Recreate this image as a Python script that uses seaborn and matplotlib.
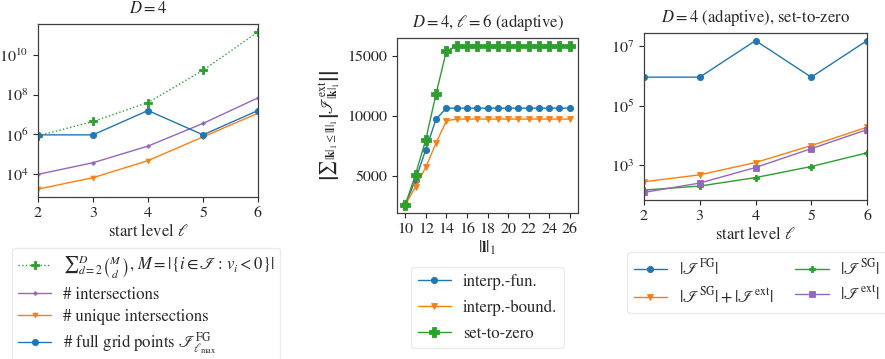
import matplotlib
matplotlib.use("Agg")
import matplotlib.pyplot as plt
import seaborn as sns

# ---- data ---------------------------------------------------------------
start_levels = [2, 3, 4, 5, 6]

# left panel: D = 4
n_binom_sum = [8.2e5, 4.4e6, 4.0e7, 1.7e9, 1.5e11]
n_intersections = [9.3e3, 3.6e4, 2.5e5, 3.5e6, 6.9e7]
n_unique_intersections = [1.66e3, 6.3e3, 4.6e4, 7.3e5, 1.15e7]
n_full_grid = [923521, 923521, 15752961, 923521, 15752961]

# middle panel: D = 4, l = 6 (adaptive)
level_sums = list(range(10, 27))
ext_interp_fun = [2600, 4700, 7210, 9750] + [10660] * 13
ext_interp_bound = [2600, 4120, 5750, 7760, 9610] + [9750] * 12
ext_set_to_zero = [2600, 5140, 8040, 11850, 15410] + [15830] * 12

# right panel: D = 4 (adaptive), set-to-zero
size_fg = [923521, 923521, 15752961, 923521, 15752961]
size_sg_plus_ext = [276, 474, 1230, 4560, 19000]
size_sg = [145, 198, 382, 902, 2600]
size_ext = [121, 250, 835, 3600, 15700]

# ---- style ----------------------------------------------------------------
sns.set_theme(style="ticks")
FS = 12
plt.rcParams.update({
    "font.family": ["STIXGeneral", "DejaVu Serif"],
    "mathtext.fontset": "stix",
    "font.size": FS,
    "axes.titlesize": FS,
    "axes.labelsize": FS,
    "xtick.labelsize": 11.5,
    "ytick.labelsize": 11.5,
    "legend.fontsize": 12,
    "axes.edgecolor": "0.25",
    "axes.linewidth": 0.9,
    "xtick.color": "0.15",
    "ytick.color": "0.15",
    "xtick.major.size": 3.5,
    "ytick.major.size": 3.5,
    "xtick.major.width": 0.8,
    "ytick.major.width": 0.8,
    "legend.edgecolor": "0.9",
    "legend.fancybox": True,
})

C_BLUE, C_ORANGE, C_GREEN, C_PURPLE = "#1f77b4", "#ff7f0e", "#2ca02c", "#9467bd"
LW = 1.0

W, H = 885, 359
fig = plt.figure(figsize=(W / 100, H / 100), dpi=100)


def box(left, top, right, bottom):
    return [left / W, 1 - bottom / H, (right - left) / W, (bottom - top) / H]


def curve(ax, x, y, color, **kw):
    sns.lineplot(x=x, y=y, ax=ax, color=color, linewidth=LW,
                 markeredgecolor=color, markeredgewidth=0.6, **kw)


LEG = dict(frameon=True, loc="upper left", borderaxespad=0.0, handlelength=2.0,
           handletextpad=0.7)

# ---- left panel -------------------------------------------------------------
ax1 = fig.add_axes(box(38, 24, 258, 197))
curve(ax1, start_levels, n_binom_sum, C_GREEN, linestyle=":", marker="P", markersize=5.5,
      label=r"${\sum}_{d=2}^{D}\binom{M}{d}$, $M=|\{i\in\mathscr{I}:\,v_i<0\}|$")
curve(ax1, start_levels, n_intersections, C_PURPLE, marker="P", markersize=2.5,
      label="# intersections")
curve(ax1, start_levels, n_unique_intersections, C_ORANGE, marker="v", markersize=3.5,
      label="# unique intersections")
curve(ax1, start_levels, n_full_grid, C_BLUE, marker="o", markersize=4.5,
      label=r"# full grid points $\mathscr{I}^{\mathrm{FG}}_{\ell_{\max}}$")
ax1.set_yscale("log")
ax1.set_xlim(2, 6)
ax1.set_xticks(start_levels)
ax1.set_xlabel(r"start level $\ell$", labelpad=2)
ax1.set_ylabel("")
ax1.set_title(r"$D=4$", pad=8)
ax1.minorticks_off()
h1, l1 = ax1.get_legend_handles_labels()
ax1.get_legend().remove()
fig.legend(h1, l1, bbox_to_anchor=(12 / W, 1 - 248 / H), labelspacing=0.35,
           borderpad=0.35, **LEG)

# ---- middle panel -----------------------------------------------------------
ax2 = fig.add_axes(box(397, 38, 578, 213))
curve(ax2, level_sums, ext_interp_fun, C_BLUE, marker="o", markersize=4.5,
      label="interp.-fun.")
curve(ax2, level_sums, ext_interp_bound, C_ORANGE, marker="v", markersize=4.5,
      label="interp.-bound.")
curve(ax2, level_sums, ext_set_to_zero, C_GREEN, marker="P", markersize=6.5,
      label="set-to-zero")
ax2.set_xticks(list(range(10, 27, 2)))
ax2.set_yticks([5000, 10000, 15000])
ax2.set_xlabel(r"$|\mathbf{l}|_1$", labelpad=2)
ax2.set_ylabel(r"$\left|{\sum}_{|\mathbf{k}|_1\leq|\mathbf{l}|_1}\left|\mathscr{I}^{\mathrm{ext}}_{|\mathbf{k}|_1}\right|\right|$",
               labelpad=4)
ax2.set_title(r"$D=4$, $\ell=6$ (adaptive)", pad=8)
h2, l2 = ax2.get_legend_handles_labels()
ax2.get_legend().remove()
fig.legend(h2, l2, bbox_to_anchor=(411 / W, 1 - 267 / H), labelspacing=0.6,
           borderpad=0.4, **LEG)

# ---- right panel ------------------------------------------------------------
ax3 = fig.add_axes(box(644, 33, 867, 200))
curve(ax3, start_levels, size_fg, C_BLUE, marker="o", markersize=4.5,
      label=r"$|\mathscr{I}^{\mathrm{FG}}|$")
curve(ax3, start_levels, size_sg_plus_ext, C_ORANGE, marker="v", markersize=4,
      label=r"$|\mathscr{I}^{\mathrm{SG}}|+|\mathscr{I}^{\mathrm{ext}}|$")
curve(ax3, start_levels, size_sg, C_GREEN, marker="P", markersize=5,
      label=r"$|\mathscr{I}^{\mathrm{SG}}|$")
curve(ax3, start_levels, size_ext, C_PURPLE, marker="s", markersize=5,
      label=r"$|\mathscr{I}^{\mathrm{ext}}|$")
ax3.set_yscale("log")
ax3.set_xlim(2, 6)
ax3.set_xticks(start_levels)
ax3.minorticks_off()
ax3.set_xlabel(r"start level $\ell$", labelpad=2)
ax3.set_ylabel("")
ax3.set_title(r"$D=4$ (adaptive), set-to-zero", pad=8)
h3, l3 = ax3.get_legend_handles_labels()
ax3.get_legend().remove()
fig.legend(h3, l3, bbox_to_anchor=(627 / W, 1 - 252 / H), ncol=2,
           labelspacing=0.45, columnspacing=1.3, borderpad=0.4, **LEG)

fig.savefig("out.png", dpi=100)
